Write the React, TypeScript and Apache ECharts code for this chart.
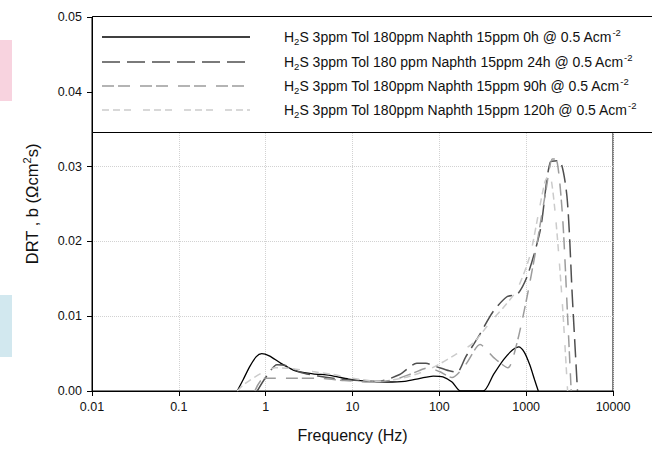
import React, { useEffect, useRef } from 'react';
import * as echarts from 'echarts';

// ---- data ----
const xTicks = [0.01, 0.1, 1, 10, 100, 1000, 10000];
const yTicks = [0, 0.01, 0.02, 0.03, 0.04, 0.05];

const seriesLabels = [
  'H{sub|2}S 3ppm Tol 180ppm Naphth 15ppm 0h @ 0.5 Acm{sup|-2}',
  'H{sub|2}S 3ppm Tol 180 ppm Naphth 15ppm 24h @ 0.5 Acm{sup|-2}',
  'H{sub|2}S 3ppm Tol 180ppm Naphth 15ppm 90h @ 0.5 Acm{sup|-2}',
  'H{sub|2}S 3ppm Tol 180ppm Naphth 15ppm 120h @ 0.5 Acm{sup|-2}',
];

const freq0h = [0.47, 0.55, 0.65, 0.78, 0.9, 1.1, 1.5, 2.2, 3.5, 5.5, 9, 15, 25, 40, 60, 85, 110, 140, 175, 320, 420, 550, 700, 820, 950, 1100, 1250, 1380];
const drt0h = [0, 0.0015, 0.0032, 0.0046, 0.005, 0.0047, 0.0037, 0.0027, 0.0023, 0.0021, 0.0016, 0.0013, 0.0012, 0.0013, 0.0017, 0.002, 0.0019, 0.0012, 0, 0, 0.0022, 0.0042, 0.0055, 0.0059, 0.0052, 0.0035, 0.0015, 0];

const freq24h = [0.8, 1.0, 1.35, 1.7, 2.5, 4, 7, 12, 20, 35, 55, 70, 90, 130, 160, 200, 280, 415, 600, 800, 1040, 1460, 1900, 2400, 2950, 3400, 3900];
const drt24h = [0, 0.0018, 0.0035, 0.0034, 0.0025, 0.002, 0.0016, 0.0014, 0.0013, 0.0022, 0.0037, 0.0037, 0.0033, 0.0027, 0.0025, 0.0045, 0.0072, 0.0106, 0.0126, 0.013, 0.0155, 0.0216, 0.0306, 0.0308, 0.026, 0.0126, 0];

const freq90h = [0.75, 0.95, 2, 4, 8, 15, 30, 50, 75, 100, 140, 200, 295, 420, 617, 767, 1000, 1300, 1700, 2000, 2200, 2600, 3000, 3300];
const drt90h = [0, 0.0017, 0.0017, 0.0017, 0.0014, 0.0012, 0.0015, 0.0024, 0.0031, 0.0026, 0.0018, 0.0035, 0.0062, 0.0045, 0.0031, 0.006, 0.012, 0.019, 0.027, 0.031, 0.031, 0.024, 0.01, 0];

const freq120h = [0.47, 0.55, 0.65, 0.9, 1.3, 2, 3.5, 6, 10, 20, 40, 70, 100, 150, 245, 380, 550, 780, 1100, 1400, 1650, 1850, 2150, 2600, 3000];
const drt120h = [0, 0.0008, 0.0014, 0.0024, 0.0031, 0.003, 0.0026, 0.0022, 0.0017, 0.0013, 0.0018, 0.0027, 0.0036, 0.0048, 0.0064, 0.0091, 0.0112, 0.0135, 0.018, 0.024, 0.028, 0.029, 0.024, 0.012, 0];

const FONT = '"Liberation Sans", Arial, sans-serif';

const pair = (xs: number[], ys: number[]) => xs.map((x, i) => [x, ys[i]]);

const styles = [
  { color: '#000000', dash: 'solid' as any, width: 1.3 },
  { color: '#4f4f4f', dash: [18, 7], width: 1.5 },
  { color: '#9c9c9c', dash: [12, 4, 12, 10], width: 1.5 },
  { color: '#cbcbcb', dash: [7, 4, 7, 4, 7, 12], width: 1.5 },
];

const seriesData = [
  pair(freq0h, drt0h),
  pair(freq24h, drt24h),
  pair(freq90h, drt90h),
  pair(freq120h, drt120h),
];

export default function App() {
  const ref = useRef<HTMLDivElement>(null);
  useEffect(() => {
    document.body.style.margin = '0';
    const chart = echarts.init(ref.current!, null, { renderer: 'svg' });
    const rowY = [37, 62, 86, 110];
    const legendEls: any[] = [];
    rowY.forEach((y, i) => {
      legendEls.push({
        type: 'line',
        z: 11,
        shape: { x1: 102, y1: y, x2: 250, y2: y },
        style: {
          stroke: styles[i].color,
          lineWidth: styles[i].width,
          lineDash: Array.isArray(styles[i].dash) ? styles[i].dash : null,
        },
      });
      legendEls.push({
        type: 'text',
        z: 11,
        x: 284,
        y: y,
        style: {
          text: seriesLabels[i],
          fontSize: 14,
          fontFamily: FONT,
          fill: '#111',
          verticalAlign: 'middle',
          align: 'left',
          rich: {
            sub: { fontSize: 9.5, fontFamily: FONT, fill: '#111', padding: [8, 0, 0, 0] },
            sup: { fontSize: 9.5, fontFamily: FONT, fill: '#111', padding: [0, 0, 10, 0] },
          },
        },
      });
    });

    chart.setOption({
      animation: false,
      backgroundColor: '#fff',
      textStyle: { fontFamily: FONT },
      grid: {
        left: 92,
        top: 17,
        width: 521,
        height: 374,
        show: true,
        borderColor: '#000',
        borderWidth: 1,
        containLabel: false,
      },
      xAxis: {
        type: 'log',
        logBase: 10,
        min: xTicks[0],
        max: xTicks[xTicks.length - 1],
        splitNumber: xTicks.length - 1,
        name: 'Frequency (Hz)',
        nameLocation: 'middle',
        nameGap: 36,
        nameTextStyle: { fontSize: 16, color: '#111', fontFamily: FONT },
        axisLine: { show: true, lineStyle: { color: '#000', width: 1 } },
        axisTick: { show: true, inside: false, length: 5, lineStyle: { color: '#000' } },
        axisLabel: {
          fontSize: 12.5,
          color: '#111',
          margin: 9,
          fontFamily: FONT,
          formatter: (v: number) => String(parseFloat(v.toPrecision(1))),
        },
        splitLine: { show: true, lineStyle: { color: '#d2d2d2', type: 'dotted', width: 1 } },
      },
      yAxis: {
        type: 'value',
        min: yTicks[0],
        max: yTicks[yTicks.length - 1],
        interval: 0.01,
        name: 'DRT , b (Ωcm{sup|2}s)',
        nameLocation: 'middle',
        nameGap: 50,
        nameTextStyle: {
          fontSize: 16.5,
          color: '#111',
          fontFamily: FONT,
          rich: { sup: { fontSize: 11, color: '#111', fontFamily: FONT, padding: [0, 0, 10, 0] } },
        },
        axisLine: { show: true, lineStyle: { color: '#000', width: 1 } },
        axisTick: { show: true, inside: false, length: 5, lineStyle: { color: '#000' } },
        axisLabel: {
          fontSize: 12.5,
          color: '#111',
          margin: 10,
          fontFamily: FONT,
          formatter: (v: number) => v.toFixed(2),
        },
        splitLine: { show: true, lineStyle: { color: '#d2d2d2', type: 'dotted', width: 1 } },
      },
      series: seriesData.map((d, i) => ({
        type: 'line',
        name: 'series' + i,
        data: d,
        symbol: 'none',
        smooth: 0.25,
        z: 3 + i,
        lineStyle: { color: styles[i].color, width: styles[i].width, type: styles[i].dash, cap: 'butt' },
      })),
      graphic: [
        { type: 'rect', z: 1, shape: { x: 0, y: 40, width: 12, height: 61 }, style: { fill: '#f8d3df' } },
        { type: 'rect', z: 1, shape: { x: 0, y: 295, width: 12, height: 62 }, style: { fill: '#d2e8ef' } },
        {
          type: 'rect',
          z: 10,
          shape: { x: 92.5, y: 16.5, width: 600, height: 116 },
          style: { fill: '#fff', stroke: '#000', lineWidth: 1 },
        },
        ...legendEls,
      ],
    });
    return () => chart.dispose();
  }, []);
  return <div ref={ref} style={{ position: 'fixed', left: 0, top: 0, width: 652, height: 451 }} />;
}
